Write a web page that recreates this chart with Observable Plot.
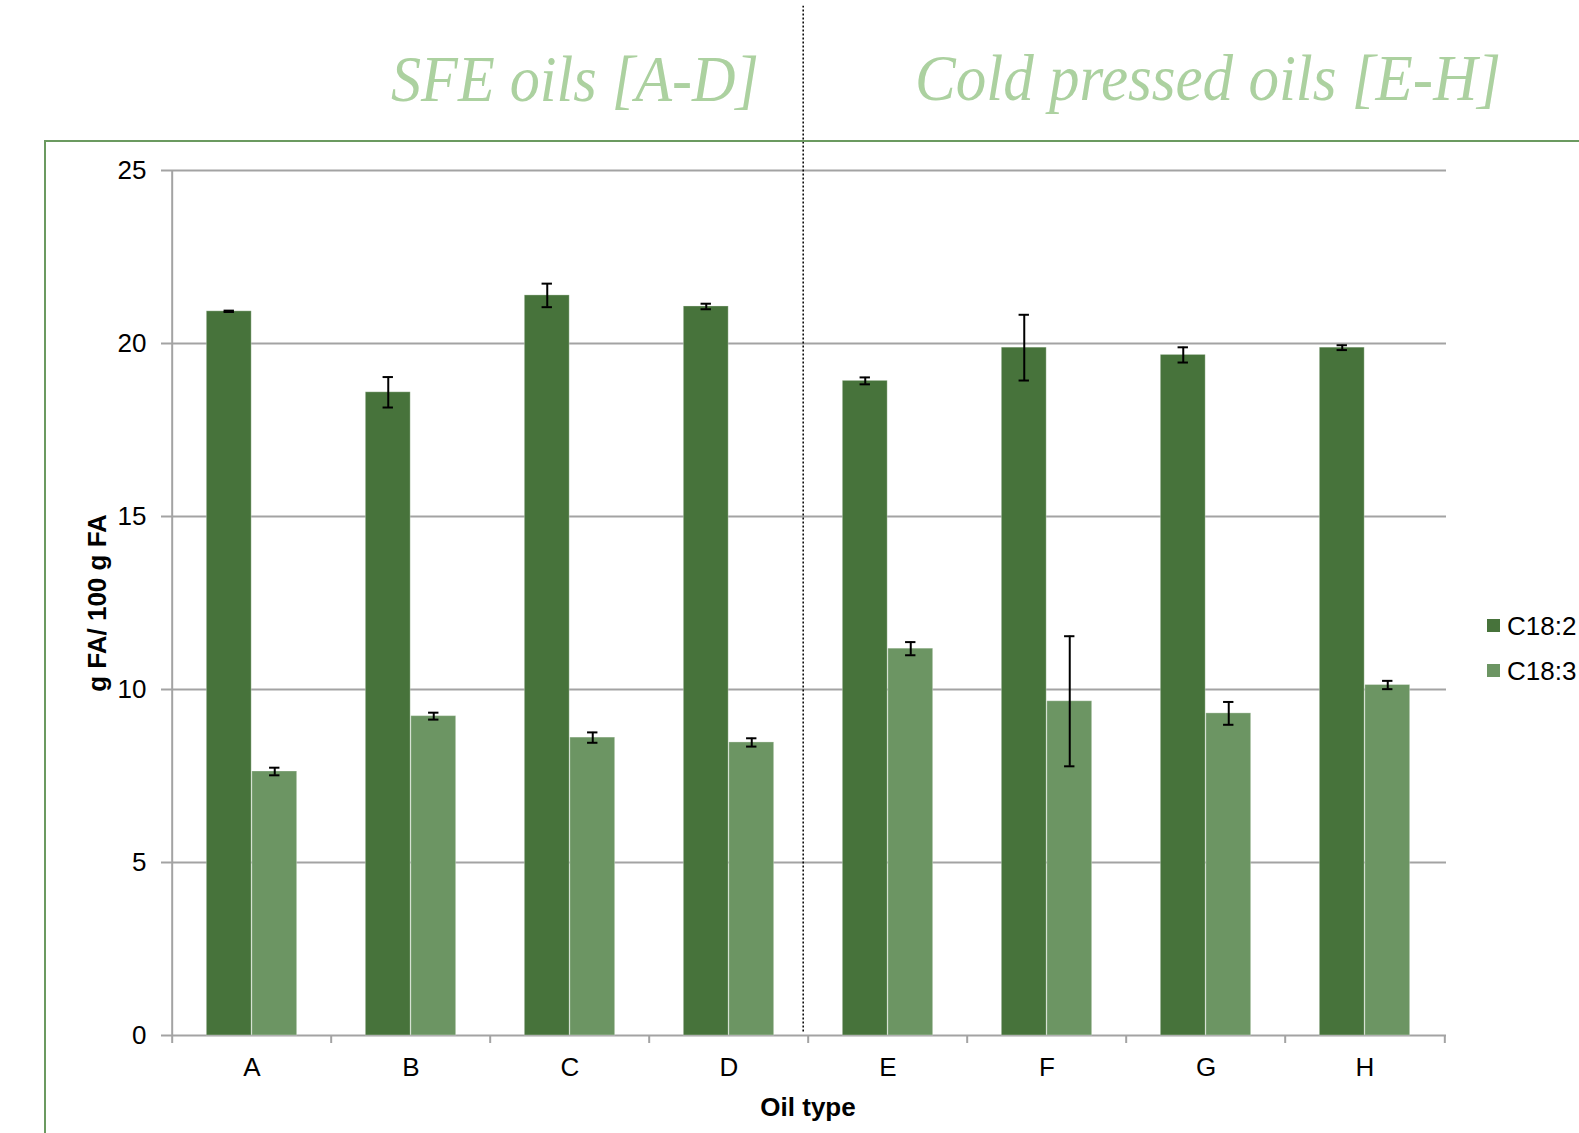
<!DOCTYPE html>
<html><head><meta charset="utf-8">
<script src="https://cdn.jsdelivr.net/npm/d3@7"></script>
<script src="https://cdn.jsdelivr.net/npm/@observablehq/plot@0.6"></script>
<style>
body{margin:0;background:#fff;}
#wrap{position:relative;width:1579px;height:1133px;overflow:hidden;font-family:"Liberation Sans",Arial,sans-serif;background:#fff;}
#wrap > svg{position:absolute;left:0;top:0;}
#frame{position:absolute;left:44px;top:140px;width:1600px;height:1100px;border-top:2px solid #6b9a60;border-left:2px solid #6b9a60;}
.leg{position:absolute;left:1487px;display:flex;align-items:center;font-size:26px;line-height:30px;height:30px;color:#000;white-space:nowrap;}
.sw{width:13px;height:13px;margin-right:7px;flex:none;}
</style></head><body><div id="wrap"><div id="frame"></div></div>
<script>
// ---- data ----
const categories = ["A","B","C","D","E","F","G","H"];
const seriesNames = ["C18:2","C18:3"];
const c182 = [20.93,18.59,21.39,21.07,18.92,19.88,19.67,19.88];
const c182err = [0.02,0.44,0.34,0.08,0.10,0.95,0.22,0.07];
const c183 = [7.63,9.23,8.61,8.47,11.18,9.66,9.31,10.13];
const c183err = [0.11,0.10,0.15,0.12,0.19,1.88,0.33,0.12];
const yTicks = [0,5,10,15,20,25];
const groupTitles = ["SFE oils [A-D]","Cold pressed oils [E-H]"];
const yLabel = "g FA/ 100 g FA";
const xLabel = "Oil type";
const colors = ["#47733b","#6c9563"];

// ---- layout ----
const W=1579, H=1133, mL=169, mR=133, mT=170, mB=98;
const step = (W-mL-mR)/categories.length;
const barW = step*0.285;
const half = step/2;
const gap = half - barW;
const capHalf = 5.5;
const gray = "#a3a3a3";

const rows = categories.flatMap((c,i)=>[
  {cat:c, series:seriesNames[0], value:c182[i], err:c182err[i]},
  {cat:c, series:seriesNames[1], value:c183[i], err:c183err[i]}
]);
const s1 = rows.filter(d=>d.series===seriesNames[0]);
const s2 = rows.filter(d=>d.series===seriesNames[1]);

const errMarks = (data, center) => [
  Plot.ruleX(data, {x:"cat", y1:d=>d.value-d.err, y2:d=>d.value+d.err, dx:center-half, stroke:"#000", strokeWidth:2}),
  Plot.tickY(data, {x:"cat", y:d=>d.value+d.err, insetLeft:center-capHalf, insetRight:step-center-capHalf, stroke:"#000", strokeWidth:2}),
  Plot.tickY(data, {x:"cat", y:d=>d.value-d.err, insetLeft:center-capHalf, insetRight:step-center-capHalf, stroke:"#000", strokeWidth:2})
];

const chart = Plot.plot({
  width: W, height: H,
  marginLeft: mL, marginRight: mR, marginTop: mT, marginBottom: mB,
  style: {fontFamily: "Liberation Sans, Arial, sans-serif", fontSize: "26px", background: "transparent", overflow: "visible", color: "#000"},
  x: {type: "band", domain: categories, padding: 0, axis: null},
  y: {domain: [0, 25], nice: false, axis: null},
  marks: [
    Plot.ruleY(yTicks, {stroke: gray, strokeWidth: 2}),
    Plot.ruleX([categories[0]], {dx: -half, y1: 0, y2: 25, stroke: gray, strokeWidth: 2}),
    Plot.axisY({ticks: yTicks, tickSize: 8, tickPadding: 15, stroke: gray, strokeWidth: 2, fill: "#000", fontSize: 26, label: null}),
    Plot.axisX({tickSize: 8, tickFormat: () => "", dx: -half, stroke: gray, strokeWidth: 2, label: null}),
    Plot.axisX({ticks: [categories[categories.length-1]], tickSize: 8, tickFormat: () => "", dx: half, stroke: gray, strokeWidth: 2, label: null}),
    Plot.axisX({tickSize: 0, tickPadding: 22, fill: "#000", fontSize: 26, label: null}),
    Plot.barY(s1, {x: "cat", y: "value", fill: colors[0], insetLeft: gap, insetRight: half, stroke: "#fff", strokeOpacity: 0.3, strokeWidth: 1}),
    Plot.barY(s2, {x: "cat", y: "value", fill: colors[1], insetLeft: half, insetRight: gap, stroke: "#fff", strokeOpacity: 0.3, strokeWidth: 1}),
    ...errMarks(s1, half - barW/2),
    ...errMarks(s2, half + barW/2),
    Plot.ruleX([categories[4]], {dx: -half - 5, y1: 0.1, y2: 29.75, stroke: "#000", strokeWidth: 1.5, strokeDasharray: "2,2"}),
    Plot.text([yLabel], {text: d=>d, frameAnchor: "left", textAnchor: "middle", dx: -72, rotate: -90, fontWeight: "bold", fontSize: 26, fill: "#000"}),
    Plot.text([xLabel], {text: d=>d, frameAnchor: "bottom", textAnchor: "middle", dy: 80, fontWeight: "bold", fontSize: 26, fill: "#000"})
  ]
});
const wrap = document.getElementById("wrap");
wrap.insertBefore(chart, wrap.firstChild);

// ---- group titles (overlay) ----
const ov = d3.select(wrap).append("svg")
  .attr("width", W).attr("height", H)
  .style("position","absolute").style("left","0").style("top","0").style("pointer-events","none");
const titleSpec = [
  {x: 391, y: 101, size: 66, len: 368},
  {x: 915, y: 99.5, size: 66, len: 586}
];
groupTitles.forEach((t,i)=>{
  ov.append("text").text(t)
    .attr("x", titleSpec[i].x).attr("y", titleSpec[i].y)
    .attr("font-family", "Liberation Serif, Times New Roman, serif")
    .attr("font-style", "italic")
    .attr("font-size", titleSpec[i].size)
    .attr("fill", "#acd1a0")
    .attr("textLength", titleSpec[i].len)
    .attr("lengthAdjust", "spacingAndGlyphs");
});

// ---- legend ----
const legTops = [610.7, 655.7];
seriesNames.forEach((s,i)=>{
  const row = document.createElement("div");
  row.className = "leg";
  row.style.top = legTops[i] + "px";
  const sw = document.createElement("div");
  sw.className = "sw"; sw.style.background = colors[i];
  const tx = document.createElement("span");
  tx.textContent = s;
  row.appendChild(sw); row.appendChild(tx);
  wrap.appendChild(row);
});
</script>
</body></html>
